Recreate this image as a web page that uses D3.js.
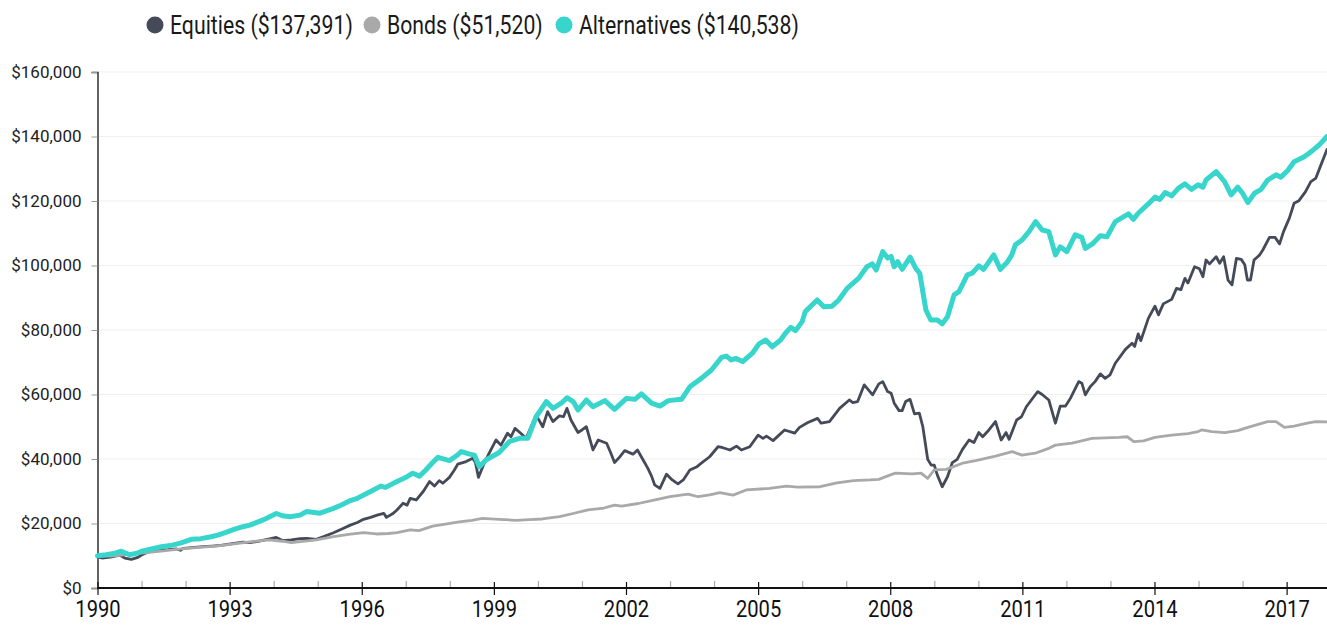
<!DOCTYPE html>
<html>
<head>
<meta charset="utf-8">
<script src="https://cdn.jsdelivr.net/npm/d3@7"></script>
<style>
  html, body { margin: 0; padding: 0; background: #fff; }
  svg { display: block; }
</style>
</head>
<body>
<svg id="chart" width="1327" height="625"></svg>
<script>
// ---------------- DATA (decimal years, dollar values) ----------------
const seriesNames = ["Equities", "Bonds", "Alternatives"];
const legendTotals = ["$137,391", "$51,520", "$140,538"];
const yTickValues = [0, 20000, 40000, 60000, 80000, 100000, 120000, 140000, 160000];
const xTickYears = d3.range(1990, 2018);
const xLabelYears = [1990, 1993, 1996, 1999, 2002, 2005, 2008, 2011, 2014, 2017];

const equitiesX = [1990.0,1990.1,1990.3,1990.5,1990.62,1990.77,1990.9,1991.0,1991.15,1991.3,1991.45,1991.6,1991.8,1991.88,1991.95,1992.2,1992.4,1992.6,1992.8,1993.1,1993.3,1993.46,1993.7,1994.06,1994.2,1994.4,1994.6,1994.75,1994.97,1995.15,1995.36,1995.55,1995.74,1995.9,1996.04,1996.2,1996.35,1996.5,1996.56,1996.7,1996.8,1996.94,1997.03,1997.1,1997.24,1997.4,1997.54,1997.65,1997.76,1997.84,1997.99,1998.1,1998.18,1998.37,1998.52,1998.58,1998.65,1998.78,1998.92,1999.05,1999.16,1999.31,1999.39,1999.48,1999.61,1999.73,1999.84,1999.96,2000.11,2000.22,2000.34,2000.49,2000.58,2000.66,2000.75,2000.91,2001.0,2001.1,2001.25,2001.37,2001.56,2001.65,2001.74,2001.85,2001.97,2002.16,2002.26,2002.39,2002.5,2002.58,2002.65,2002.77,2002.92,2003.05,2003.18,2003.3,2003.45,2003.6,2003.71,2003.9,2004.09,2004.2,2004.36,2004.51,2004.62,2004.81,2005.0,2005.11,2005.19,2005.34,2005.45,2005.6,2005.83,2005.94,2006.13,2006.35,2006.43,2006.62,2006.85,2007.07,2007.15,2007.26,2007.41,2007.6,2007.74,2007.83,2007.94,2008.02,2008.09,2008.2,2008.27,2008.35,2008.45,2008.55,2008.66,2008.74,2008.85,2008.93,2009.0,2009.07,2009.18,2009.3,2009.41,2009.52,2009.64,2009.79,2009.9,2010.01,2010.1,2010.24,2010.39,2010.52,2010.63,2010.7,2010.87,2010.98,2011.09,2011.26,2011.35,2011.45,2011.6,2011.75,2011.86,2011.98,2012.09,2012.28,2012.35,2012.43,2012.54,2012.65,2012.77,2012.88,2012.99,2013.11,2013.34,2013.49,2013.55,2013.63,2013.69,2013.86,2014.01,2014.09,2014.2,2014.39,2014.5,2014.6,2014.69,2014.76,2014.91,2015.02,2015.1,2015.17,2015.25,2015.4,2015.48,2015.57,2015.67,2015.76,2015.86,2015.97,2016.05,2016.11,2016.18,2016.26,2016.39,2016.46,2016.61,2016.74,2016.84,2016.93,2017.06,2017.17,2017.28,2017.43,2017.55,2017.66,2017.78,2017.917];
const equitiesY = [9600,9300,9600,10200,9300,8900,9400,10200,11200,11500,11800,11900,12100,11700,12300,12600,12800,13000,13200,13850,14200,14050,14600,15700,14700,14900,15300,15400,15100,16000,17150,18300,19500,20300,21300,21900,22600,23150,21900,23000,24200,26300,25700,27800,27300,30000,33000,31600,33300,32500,34300,36500,38400,39200,40200,39000,34300,38700,42500,45900,44300,48000,46900,49500,48000,46400,49800,53600,50000,54700,51600,53400,53100,55700,52100,48200,49000,50000,42800,45900,44900,42000,38900,40500,42600,41500,42800,39700,37000,34700,32000,30900,35300,33500,32300,33500,36600,37500,38700,40700,43800,43500,42800,44000,42800,43800,47400,46400,47100,45700,47100,49000,48000,49800,51300,52600,51100,51600,55700,58300,57500,57800,63000,59900,63300,64000,60900,60400,57300,55000,55000,57800,58500,54000,54200,50000,39900,38100,38100,35000,31400,34500,38900,39900,43000,45900,45100,48200,46900,49000,51600,45900,48200,46100,52100,53100,56200,59300,60900,60000,58300,51100,56400,56400,58800,64000,63500,59900,62400,64000,66400,65000,66100,69700,74000,75900,74900,78800,76700,83600,87400,84700,88100,89500,92900,92500,96000,94600,99600,99000,96500,101700,100500,102700,100700,102700,95500,94000,102200,101900,100200,95500,95500,101700,103300,104800,108700,108700,106700,110500,114600,119300,120100,122900,126000,127000,131200,136000];

const bondsX = [1990.0,1990.3,1990.6,1991.0,1991.5,1991.9,1992.3,1992.7,1993.1,1993.5,1993.9,1994.2,1994.4,1994.97,1995.36,1995.7,1996.04,1996.33,1996.6,1996.8,1997.1,1997.3,1997.61,1997.9,1998.21,1998.5,1998.74,1999.12,1999.5,1999.8,2000.1,2000.49,2000.8,2001.14,2001.5,2001.74,2001.9,2002.28,2002.66,2003.0,2003.41,2003.64,2003.9,2004.13,2004.43,2004.73,2005.26,2005.64,2005.9,2006.41,2006.79,2007.17,2007.54,2007.74,2007.99,2008.12,2008.5,2008.7,2008.85,2009.0,2009.27,2009.64,2009.94,2010.39,2010.77,2010.99,2011.29,2011.6,2011.75,2012.13,2012.58,2013.19,2013.38,2013.53,2013.75,2014.01,2014.39,2014.76,2014.99,2015.07,2015.3,2015.6,2015.89,2016.12,2016.57,2016.76,2016.95,2017.17,2017.47,2017.66,2017.917];
const bondsY = [10000,9900,10300,10800,11500,12100,12600,13000,13650,14400,14900,14500,14100,14900,15900,16600,17150,16750,16900,17150,18000,17800,19200,19800,20500,21000,21600,21300,21000,21200,21400,22100,23100,24200,24800,25700,25400,26200,27300,28300,29100,28300,28900,29600,28800,30400,30900,31600,31300,31400,32600,33300,33500,33700,35000,35600,35400,35600,34000,36600,36800,38700,39500,40900,42300,41200,41800,43300,44300,44900,46400,46700,46900,45400,45600,46700,47400,47900,48500,49000,48500,48200,48800,49800,51600,51600,49800,50200,51100,51600,51500];

const altsX = [1990.0,1990.2,1990.4,1990.54,1990.73,1990.9,1991.0,1991.2,1991.45,1991.7,1991.9,1992.13,1992.35,1992.58,1992.73,1992.9,1993.1,1993.3,1993.46,1993.76,1994.06,1994.2,1994.37,1994.6,1994.75,1995.05,1995.36,1995.55,1995.74,1995.9,1996.2,1996.43,1996.54,1996.8,1997.03,1997.16,1997.31,1997.45,1997.61,1997.73,1997.99,1998.15,1998.26,1998.45,1998.56,1998.67,1998.82,1999.12,1999.35,1999.58,1999.77,1999.96,2000.19,2000.34,2000.53,2000.66,2000.8,2000.91,2001.1,2001.25,2001.52,2001.74,2002.01,2002.2,2002.35,2002.58,2002.77,2002.96,2003.26,2003.45,2003.71,2003.94,2004.17,2004.28,2004.39,2004.5,2004.65,2004.87,2005.02,2005.17,2005.32,2005.51,2005.62,2005.74,2005.85,2006.0,2006.07,2006.34,2006.49,2006.68,2006.83,2007.02,2007.28,2007.47,2007.59,2007.68,2007.83,2007.94,2008.02,2008.09,2008.17,2008.27,2008.45,2008.58,2008.67,2008.81,2008.92,2009.07,2009.18,2009.3,2009.45,2009.56,2009.75,2009.86,2010.01,2010.12,2010.35,2010.5,2010.65,2010.76,2010.84,2010.99,2011.15,2011.3,2011.45,2011.6,2011.75,2011.86,2012.01,2012.2,2012.35,2012.43,2012.6,2012.77,2012.92,2013.11,2013.41,2013.52,2013.63,2013.86,2014.01,2014.12,2014.24,2014.39,2014.54,2014.69,2014.84,2014.99,2015.1,2015.17,2015.4,2015.59,2015.74,2015.89,2016.0,2016.12,2016.27,2016.42,2016.57,2016.76,2016.87,2017.02,2017.17,2017.4,2017.51,2017.62,2017.74,2017.917];
const altsY = [10000,10300,10800,11400,10300,10800,11400,12000,12800,13300,14000,15100,15300,15900,16400,17200,18200,19000,19500,21100,23100,22400,22100,22600,23700,23200,24700,25800,27100,27800,29900,31600,31200,33000,34500,35600,34700,36500,38900,40500,39500,41000,42300,41500,41200,37600,39700,42000,45400,46400,46400,53100,57800,55700,57300,59000,57800,55200,58300,56200,58100,55400,58800,58500,60200,57300,56400,58100,58500,62400,65000,67600,71500,71900,70700,71200,70200,72800,75700,76900,74800,76900,79000,80800,79800,82600,85700,89300,87200,87400,89300,92900,96000,99600,100500,98600,104300,102300,102800,99600,101200,98800,102600,99100,97600,86200,83100,83100,81900,84100,90900,91900,97100,97600,99900,98800,103300,98800,100900,103300,106400,107900,110500,113600,111000,110500,103300,105800,104300,109500,108700,105300,106800,109200,108900,113600,116000,114300,116200,119100,121200,120500,122600,121600,123900,125300,123600,125000,124300,126500,129100,126000,121900,124300,122400,119500,122400,123600,126500,128100,127400,129400,132200,133700,134800,136000,137400,140000];

const seriesColors = ["#454a59", "#a9a9a9", "#37d5cb"];
const seriesWidths = [2.8, 2.8, 5];

// ---------------- CHART ----------------
const svg = d3.select("#chart");
const margin = { left: 97.5, right: 0, top: 72, bottom: 37 };
const W = 1327, H = 625;
const axisSqueeze = 0.84;   // horizontal squeeze to mimic a condensed typeface
const legendSqueeze = 0.85;

const x = d3.scaleLinear().domain([1990, 2017.917]).range([margin.left, W - margin.right]);
const y = d3.scaleLinear().domain([0, 160000]).range([H - margin.bottom, margin.top]);

// gridlines
svg.append("g")
  .selectAll("line")
  .data(yTickValues.filter(d => d > 0))
  .join("line")
  .attr("x1", margin.left).attr("x2", W)
  .attr("y1", d => y(d)).attr("y2", d => y(d))
  .attr("stroke", "#efefef").attr("stroke-width", 1);

// y axis
const yAxis = d3.axisLeft(y).tickValues(yTickValues).tickSize(6).tickPadding(10)
  .tickFormat(d => "$" + d3.format(",")(d));
const gy = svg.append("g").attr("transform", `translate(${margin.left},0)`).call(yAxis);
gy.select(".domain").attr("stroke", "#111").attr("stroke-width", 1.3);
gy.selectAll(".tick line").attr("stroke", "#999");
gy.selectAll(".tick text").attr("fill", "#222").style("font-family", "Roboto, sans-serif").style("font-size", "17px");

// lines
const xs = [equitiesX, bondsX, altsX];
const ys = [equitiesY, bondsY, altsY];
const line = d3.line().x(d => x(d[0])).y(d => y(d[1]));
seriesNames.forEach((name, i) => {
  const pts = xs[i].map((t, k) => [t, ys[i][k]]);
  svg.append("path")
    .datum(pts)
    .attr("d", line)
    .attr("fill", "none")
    .attr("stroke", seriesColors[i])
    .attr("stroke-width", seriesWidths[i])
    .attr("stroke-linejoin", "round")
    .attr("stroke-linecap", "round");
});

// x axis: minor ticks above, major ticks crossing
const gx = svg.append("g").attr("transform", `translate(0,${y(0)})`);
const xAxisMinor = d3.axisTop(x).tickValues(xTickYears.filter(d => !xLabelYears.includes(d))).tickSize(7).tickFormat("");
gx.append("g").call(xAxisMinor).call(g => { g.select(".domain").remove(); g.selectAll(".tick line").attr("stroke", "#aaa").attr("stroke-width", 1.2); });
const xAxisMajor = d3.axisBottom(x).tickValues(xLabelYears).tickSize(7).tickFormat(d3.format("d"));
const gxm = gx.append("g").call(xAxisMajor);
gxm.select(".domain").remove();
gxm.selectAll(".tick line").attr("stroke", "#111").attr("y1", -6).attr("stroke-width", 1.2);
gxm.selectAll(".tick text")
  .attr("y", 0).attr("dy", null)
  .attr("transform", `translate(0,29) scale(${axisSqueeze},1)`)
  .attr("fill", "#111")
  .style("font-family", "Roboto, sans-serif").style("font-size", "24px");
gx.append("line").attr("x1", margin.left).attr("x2", W).attr("y1", 0).attr("y2", 0)
  .attr("stroke", "#111").attr("stroke-width", 1.8);

// legend
const legendX = [155, 372, 564];
const lg = svg.append("g");
seriesNames.forEach((name, i) => {
  lg.append("circle").attr("cx", legendX[i]).attr("cy", 25).attr("r", 8.5).attr("fill", seriesColors[i]);
  lg.append("text")
    .attr("transform", `translate(${legendX[i] + 15},34) scale(${legendSqueeze},1)`)
    .attr("fill", "#1a1a1a")
    .style("font-family", "Roboto, sans-serif").style("font-size", "25px")
    .text(`${name} (${legendTotals[i]})`);
});
</script>
</body>
</html>
